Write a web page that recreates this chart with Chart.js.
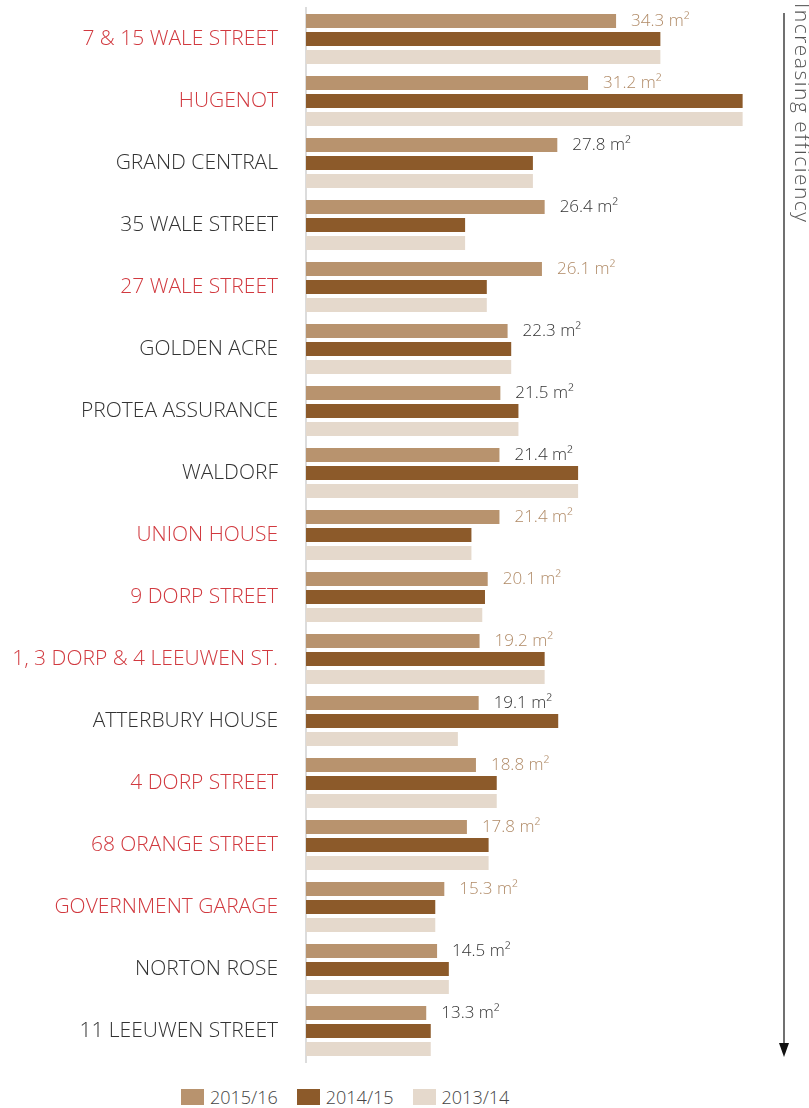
<!DOCTYPE html>
<html>
<head>
<meta charset="utf-8">
<script src="https://cdn.jsdelivr.net/npm/chart.js@4.4.0/dist/chart.umd.min.js"></script>
<style>
  body { margin: 0; background: #fff; font-family: 'Open Sans', sans-serif; font-weight: 300; }
  #wrap { position: relative; width: 809px; height: 1075px; }
  #legend { display: flex; padding-left: 181px; margin-top: 13px; font-size: 18px; line-height: 18px; color: #444; }
  #legend span.item { display: flex; align-items: center; margin-right: 19px; }
  #legend span.box { display: inline-block; width: 23px; height: 16px; margin-right: 6px; }
</style>
</head>
<body>
<div id="wrap"><canvas id="effChart"></canvas></div>
<div id="legend"></div>
<script>
const buildings = ['7 & 15 WALE STREET', 'HUGENOT', 'GRAND CENTRAL', '35 WALE STREET', '27 WALE STREET',
  'GOLDEN ACRE', 'PROTEA ASSURANCE', 'WALDORF', 'UNION HOUSE', '9 DORP STREET',
  '1, 3 DORP & 4 LEEUWEN ST.', 'ATTERBURY HOUSE', '4 DORP STREET', '68 ORANGE STREET',
  'GOVERNMENT GARAGE', 'NORTON ROSE', '11 LEEUWEN STREET'];
// buildings shown in red in the original
const owned = [true, true, false, false, true, false, false, false, true, true, true, false, true, true, true, false, false];

const years = ['2015/16', '2014/15', '2013/14'];
const y2015 = [34.3, 31.2, 27.8, 26.4, 26.1, 22.3, 21.5, 21.4, 21.4, 20.1, 19.2, 19.1, 18.8, 17.8, 15.3, 14.5, 13.3];
const y2014 = [39.2, 48.3, 25.1, 17.6, 20.0, 22.7, 23.5, 30.1, 18.3, 19.8, 26.4, 27.9, 21.1, 20.2, 14.3, 15.8, 13.8];
const y2013 = [39.2, 48.3, 25.1, 17.6, 20.0, 22.7, 23.5, 30.1, 18.3, 19.5, 26.4, 16.8, 21.1, 20.2, 14.3, 15.8, 13.8];

const colours = ['#b8936e', '#8c5a2a', '#e5d9cc'];
const redText = '#d1393f';
const greyText = '#333333';
const tanText = '#b08a66';

const canvas = document.getElementById('effChart');
canvas.width = 809;
canvas.height = 1075;

// value labels for the 2015/16 bars
const valueLabels = {
  id: 'valueLabels',
  afterDatasetsDraw(chart) {
    const ctx = chart.ctx;
    const meta = chart.getDatasetMeta(0);
    ctx.save();
    ctx.font = '300 17px "Open Sans"';
    ctx.textBaseline = 'middle';
    ctx.textAlign = 'left';
    meta.data.forEach((bar, i) => {
      ctx.fillStyle = owned[i] ? tanText : greyText;
      ctx.fillText(y2015[i].toFixed(1) + ' m\u00B2', bar.x + 15, bar.y);
    });
    ctx.restore();
  }
};

// arrow + caption on the right
const effArrow = {
  id: 'effArrow',
  afterDraw(chart) {
    const ctx = chart.ctx;
    const top = chart.chartArea.top + 5;
    const bottom = chart.chartArea.bottom - 5;
    const x = 784;
    ctx.save();
    ctx.strokeStyle = '#111';
    ctx.lineWidth = 1.2;
    ctx.beginPath();
    ctx.moveTo(x, top);
    ctx.lineTo(x, bottom - 12);
    ctx.stroke();
    ctx.fillStyle = '#111';
    ctx.beginPath();
    ctx.moveTo(x - 5, bottom - 14);
    ctx.lineTo(x + 5, bottom - 14);
    ctx.lineTo(x, bottom);
    ctx.closePath();
    ctx.fill();
    ctx.translate(801, 3);
    ctx.rotate(Math.PI / 2);
    ctx.font = '300 21px "Open Sans"';
    ctx.letterSpacing = '1.5px';
    ctx.fillStyle = '#555';
    ctx.textBaseline = 'middle';
    ctx.fillText('Increasing efficiency', 0, 0);
    ctx.restore();
  }
};

const chart = new Chart(canvas, {
  type: 'bar',
  data: {
    labels: buildings,
    datasets: [
      { label: years[0], data: y2015, backgroundColor: colours[0] },
      { label: years[1], data: y2014, backgroundColor: colours[1] },
      { label: years[2], data: y2013, backgroundColor: colours[2] }
    ]
  },
  options: {
    indexAxis: 'y',
    responsive: false,
    animation: false,
    categoryPercentage: 0.871,
    barPercentage: 0.778,
    layout: { padding: { top: 8, bottom: 13, right: 51, left: 0 } },
    scales: {
      x: { display: false, min: 0, max: 50 },
      y: {
        afterFit(scale) {
          scale.width = 306;
          scale.paddingTop = 0;
          scale.paddingBottom = 0;
        },
        grid: { display: false, drawTicks: false },
        border: { color: '#dcdcdc', width: 2 },
        ticks: {
          padding: 28,
          font: { family: 'Open Sans', size: 21, weight: 300 },
          color: ctx => owned[ctx.index] ? redText : greyText
        }
      }
    },
    plugins: {
      legend: { display: false },
      tooltip: { enabled: false }
    }
  },
  plugins: [valueLabels, effArrow]
});

// legend underneath
const legend = document.getElementById('legend');
years.forEach((y, i) => {
  const item = document.createElement('span');
  item.className = 'item';
  item.innerHTML = '<span class="box" style="background:' + colours[i] + '"></span>' + y;
  legend.appendChild(item);
});
</script>
</body>
</html>
